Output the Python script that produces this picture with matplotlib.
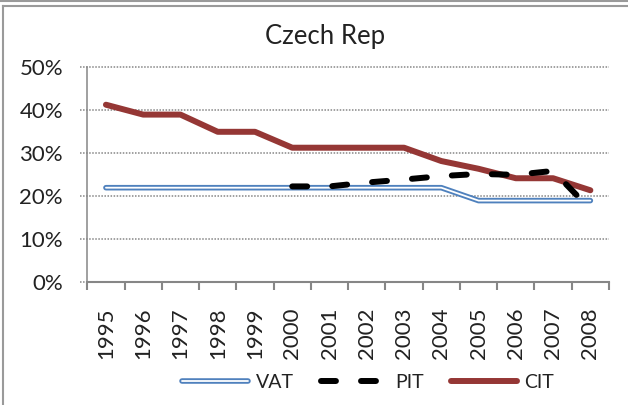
import numpy as np
import matplotlib
matplotlib.use('Agg')
import matplotlib.pyplot as plt
import matplotlib.patheffects as pe
from matplotlib.lines import Line2D
from matplotlib.ticker import FixedLocator, FuncFormatter

# datos (tasas en %)
years = ['1995', '1996', '1997', '1998', '1999', '2000', '2001',
         '2002', '2003', '2004', '2005', '2006', '2007', '2008']
vat = [22, 22, 22, 22, 22, 22, 22, 22, 22, 22, 19, 19, 19, 19]
pit = [np.nan, np.nan, np.nan, np.nan, np.nan, 22.3, 22.3, 23.2, 23.9, 24.7, 25.2, 25.0, 25.9, 17.0]
cit = [41.3, 39, 39, 35, 35, 31.3, 31.3, 31.3, 31.3, 28.2, 26.4, 24.2, 24.2, 21.4]
y_ticks = [0, 10, 20, 30, 40, 50]

plt.rcParams['font.family'] = ['Lato', 'DejaVu Sans']
gray = '#868686'

fig = plt.figure(figsize=(6.28, 4.05), dpi=100)
ax = fig.add_axes([87.3 / 628, 1 - 282.3 / 405, (609 - 87.3) / 628, (282.3 - 67.3) / 405])

x = np.arange(len(years))

# VAT: linea doble (contorno azul, centro blanco)
ax.plot(x, vat, color='white', lw=1.3, solid_capstyle='round', label='VAT', zorder=3,
        path_effects=[pe.Stroke(linewidth=4.0, foreground='#4F81BD', capstyle='round'), pe.Normal()])
ax.plot(x, cit, color='#953735', lw=4.3, solid_capstyle='round', solid_joinstyle='round',
        label='CIT', zorder=4)
ax.plot(x, pit, color='black', lw=4.3, dashes=(2.5, 4.2), dash_capstyle='round',
        label='PIT', zorder=5)

ax.set_xlim(-0.5, len(years) - 0.5)
ax.set_ylim(0, 50)

# rejilla punteada
for v in y_ticks[1:]:
    ax.axhline(v, xmin=-0.014, xmax=1, color=gray, lw=1.1, dashes=(1, 1), clip_on=False, zorder=1)
ax.axhline(0, xmin=-0.014, xmax=0, color=gray, lw=1.1, dashes=(1, 1), clip_on=False, zorder=1)

for s in ['top', 'right']:
    ax.spines[s].set_visible(False)
ax.spines['left'].set_color(gray)
ax.spines['left'].set_linestyle((0, (1, 1)))
ax.spines['left'].set_linewidth(1.1)
ax.spines['bottom'].set_color(gray)
ax.spines['bottom'].set_linewidth(1.5)

ax.set_yticks(y_ticks)
ax.yaxis.set_major_formatter(FuncFormatter(lambda v, p: '%d%%' % v))
ax.tick_params(axis='y', length=0, pad=17.5, labelsize=16, labelcolor='#222222')

ax.set_xticks(x)
ax.set_xticklabels(years, rotation=90, fontsize=16, color='#222222')
ax.xaxis.set_minor_locator(FixedLocator(np.arange(-0.5, len(years), 1)))
ax.tick_params(axis='x', which='major', length=0, pad=18)
ax.tick_params(axis='x', which='minor', length=5.8, width=1.5, color=gray)

fig.text(325 / 628, 1 - 44.3 / 405, 'Czech Rep', ha='center', va='baseline', fontsize=18.5, color='#222222')

handles, labels = ax.get_legend_handles_labels()
order = [0, 2, 1]
leg = fig.legend([handles[i] for i in order], [labels[i] for i in order],
                 loc='center', bbox_to_anchor=(368 / 628, 1 - 382 / 405), ncol=3, frameon=False,
                 fontsize=14, handlelength=3.4, handletextpad=0.4, columnspacing=1.4)
for t in leg.get_texts():
    t.set_color('#222222')

# marco del grafico
fig.add_artist(Line2D([0, 1], [1 - 1 / 405, 1 - 1 / 405], transform=fig.transFigure, color='#9a9a9a', lw=1.5))
fig.add_artist(Line2D([3.5 / 628, 1], [1 - 5.5 / 405, 1 - 5.5 / 405], transform=fig.transFigure, color='#9a9a9a', lw=1.5))
fig.add_artist(Line2D([3.5 / 628, 3.5 / 628], [0, 1 - 5.5 / 405], transform=fig.transFigure, color='#9a9a9a', lw=1.5))

plt.savefig('out.png', dpi=100)
